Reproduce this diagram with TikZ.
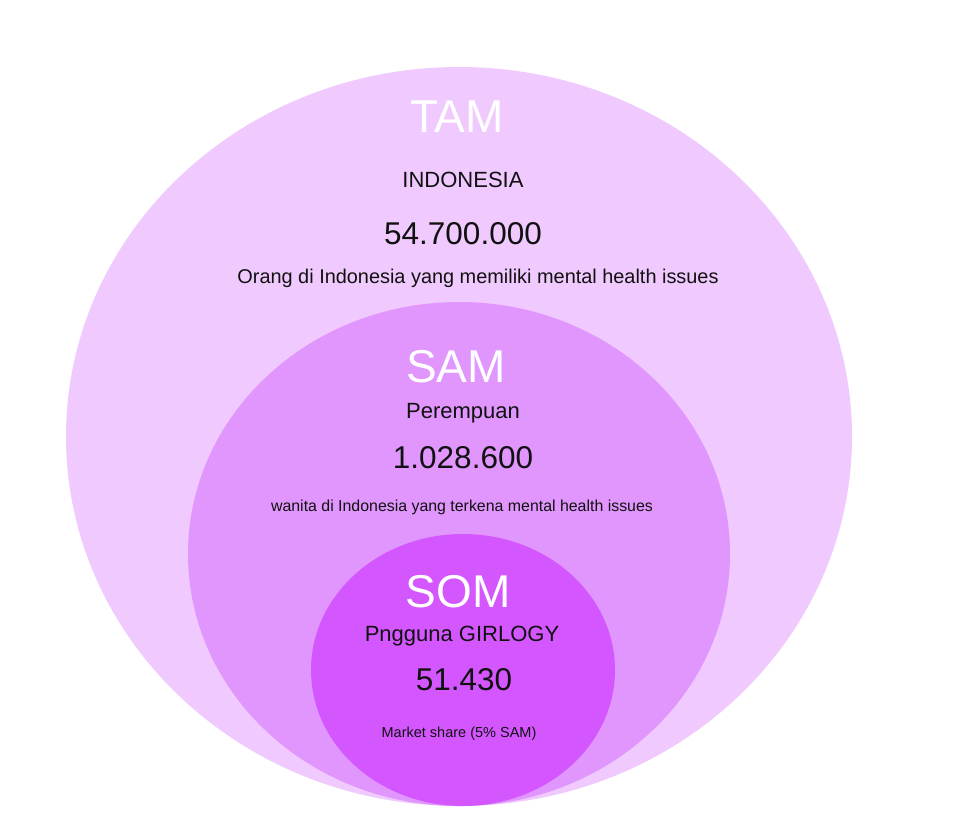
\documentclass[tikz,border=0pt]{standalone}
\usepackage{fontspec}
\setmainfont{Liberation Sans}
\definecolor{tamcol}{RGB}{240,202,254}
\definecolor{samcol}{RGB}{225,150,253}
\definecolor{somcol}{RGB}{212,86,254}
\definecolor{ink}{RGB}{17,17,17}

\begin{document}
\begin{tikzpicture}[x=1pt, y=-1pt,
  lbl/.style={anchor=base, inner sep=0pt, text=ink},
  head/.style={lbl, text=white, font=\fontsize{46}{50}\selectfont},
  sub/.style={lbl, font=\fontsize{22}{24}\selectfont},
  num/.style={lbl, font=\fontsize{31.5}{34}\selectfont},
  note/.style={lbl, font=\fontsize{19.9}{22}\selectfont}]
  \useasboundingbox[fill=white] (0,0) rectangle (957,836);
  % nested market circles
  \foreach \cx/\cy/\rx/\ry/\c in {459/436.5/393/369.5/tamcol, 459/554/271/252/samcol, 463/670/152/136/somcol}
    \fill[\c] (\cx,\cy) ellipse [x radius=\rx, y radius=\ry];
  % TAM
  \node[head] (tam) at (457,132) {TAM};
  \node[sub] (tamsub) at (463,187) {INDONESIA};
  \node[num] (tamnum) at (463,244) {54.700.000};
  \node[note] (tamnote) at (478,283) {Orang di Indonesia yang memiliki mental health issues};
  % SAM
  \node[head] (sam) at (456,382) {SAM};
  \node[sub] (samsub) at (463,418) {Perempuan};
  \node[num] (samnum) at (463,468) {1.028.600};
  \node[note, font=\fontsize{15.9}{18}\selectfont] (samnote) at (462,511) {wanita di Indonesia yang terkena mental health issues};
  % SOM
  \node[head] (som) at (458,607) {SOM};
  \node[sub] (somsub) at (462,641) {Pngguna GIRLOGY};
  \node[num] (somnum) at (464,690) {51.430};
  \node[note, font=\fontsize{14.5}{16}\selectfont] (somnote) at (459,737) {Market share (5\% SAM)};
\end{tikzpicture}
\end{document}
